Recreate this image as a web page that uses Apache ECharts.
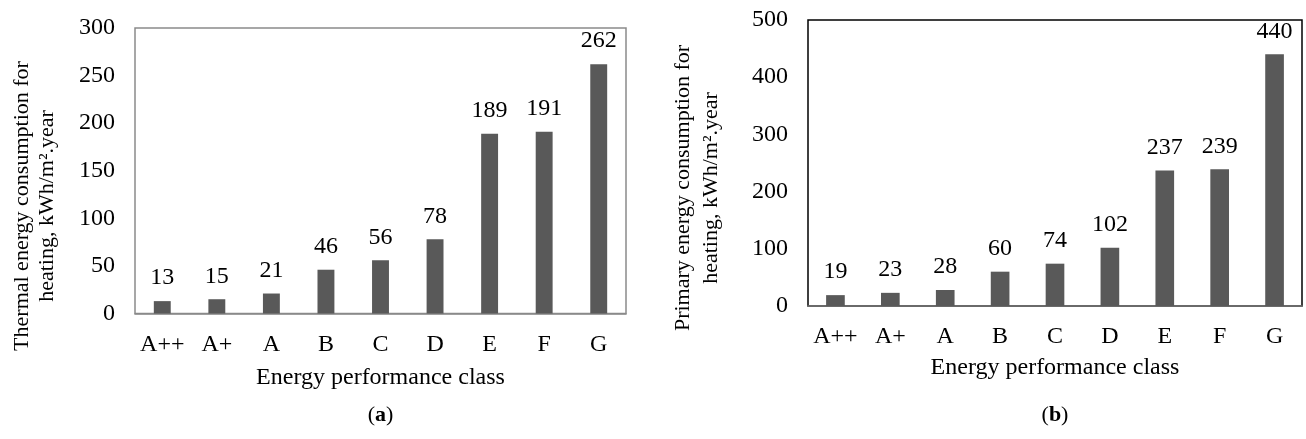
<!DOCTYPE html>
<html>
<head>
<meta charset="utf-8">
<script src="https://cdn.jsdelivr.net/npm/echarts@6/dist/echarts.min.js"></script>
<style>
html,body{margin:0;padding:0;background:#fff;}
#c{width:1306px;height:439px;}
</style>
</head>
<body>
<div id="c"></div>
<script>
const categories = ['A++','A+','A','B','C','D','E','F','G'];
const thermalValues = [13,15,21,46,56,78,189,191,262];
const primaryValues = [19,23,28,60,74,102,237,239,440];
const thermalTicks = {min:0, max:300, interval:50};
const primaryTicks = {min:0, max:500, interval:100};
const xTitle = 'Energy performance class';
const yTitleA = 'Thermal energy consumption for\nheating, kWh/m².year';
const yTitleB = 'Primary energy consumption for\nheating, kWh/m².year';

const FONT = '"Liberation Serif", "Times New Roman", serif';
const FS = 24;
const FT = 22;
const chart = echarts.init(document.getElementById('c'), null, {renderer:'canvas'});

function xAxis(gi, lineColor){
  return {
    type:'category', gridIndex:gi, data:categories,
    axisTick:{show:false},
    axisLine:{show:true, lineStyle:{color:lineColor, width:1.5}},
    axisLabel:{interval:0, color:'#000', fontFamily:FONT, fontSize:FS, margin:19}
  };
}
function yAxis(gi, t){
  return {
    type:'value', gridIndex:gi, min:t.min, max:t.max, interval:t.interval,
    axisLine:{show:false}, axisTick:{show:false}, splitLine:{show:false},
    axisLabel:{color:'#000', fontFamily:FONT, fontSize:FS, margin:20}
  };
}
function series(gi, vals, bw){
  return {
    type:'bar', xAxisIndex:gi, yAxisIndex:gi, data:vals, barWidth:bw,
    itemStyle:{color:'#595959'},
    label:{show:true, position:'top', distance:11, color:'#000', fontFamily:FONT, fontSize:FS},
    labelLayout:{hideOverlap:false},
    silent:true, animation:false
  };
}

chart.setOption({
  animation:false,
  grid:[
    {left:135, top:28, width:491, height:285.5, show:true, borderColor:'#8a8a8a', borderWidth:1.5, backgroundColor:'transparent'},
    {left:808, top:20, width:494, height:286, show:true, borderColor:'#000', borderWidth:1.5, backgroundColor:'transparent'}
  ],
  xAxis:[xAxis(0,'#8a8a8a'), xAxis(1,'#7a7a7a')],
  yAxis:[yAxis(0,thermalTicks), yAxis(1,primaryTicks)],
  series:[series(0,thermalValues,'31%'), series(1,primaryValues,'34%')],
  graphic:[
    {type:'text', x:34.5, y:206, rotation:Math.PI/2, style:{text:yTitleA, font:FT+'px '+FONT, fill:'#000', align:'center', verticalAlign:'middle', lineHeight:25}},
    {type:'text', x:697, y:188, rotation:Math.PI/2, style:{text:yTitleB, font:FT+'px '+FONT, fill:'#000', align:'center', verticalAlign:'middle', lineHeight:28}},
    {type:'text', x:380.5, y:378, style:{text:xTitle, font:FS+'px '+FONT, fill:'#000', align:'center', verticalAlign:'middle'}},
    {type:'text', x:1055, y:368, style:{text:xTitle, font:FS+'px '+FONT, fill:'#000', align:'center', verticalAlign:'middle'}},
    {type:'text', x:380.5, y:415, style:{text:'{r|(}{b|a}{r|)}', align:'center', verticalAlign:'middle', rich:{r:{fontSize:22, fontFamily:FONT, fill:'#000'}, b:{fontSize:22, fontFamily:FONT, fontWeight:'bold', fill:'#000'}}}},
    {type:'text', x:1055, y:415, style:{text:'{r|(}{b|b}{r|)}', align:'center', verticalAlign:'middle', rich:{r:{fontSize:22, fontFamily:FONT, fill:'#000'}, b:{fontSize:22, fontFamily:FONT, fontWeight:'bold', fill:'#000'}}}}
  ]
});
</script>
</body>
</html>
